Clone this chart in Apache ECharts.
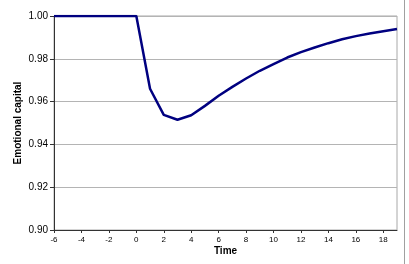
<!DOCTYPE html>
<html>
<head>
<meta charset="utf-8">
<script src="https://cdn.jsdelivr.net/npm/echarts@6/dist/echarts.min.js"></script>
<style>
html, body { margin: 0; padding: 0; background: #fff; }
#chart { width: 409px; height: 264px; }
</style>
</head>
<body>
<div id="chart"></div>
<script>
// data
var times = [-6, -5, -4, -3, -2, -1, 0, 1, 2, 3, 4, 5, 6, 7, 8, 9, 10, 11, 12, 13, 14, 15, 16, 17, 18, 19];
var capital = [1, 1, 1, 1, 1, 1, 1, 0.966, 0.9538, 0.9515, 0.9536, 0.958, 0.9627, 0.9669, 0.9708, 0.9744,
    0.9775, 0.9806, 0.9831, 0.9853, 0.9873, 0.9891, 0.9906, 0.9918, 0.9929, 0.9939];
var yTicks = { min: 0.9, max: 1.0, step: 0.02 };
var xTicks = { min: -6, max: 19, step: 2 };

var points = times.map(function(t, i) { return [t, capital[i]]; });

var myChart = echarts.init(document.getElementById('chart'));
myChart.setOption({
    animation: false,
    grid: {
        left: 54, right: 12, top: 16, bottom: 34,
        show: true, borderColor: '#a8a8a8', borderWidth: 1
    },
    xAxis: {
        type: 'value',
        min: xTicks.min, max: xTicks.max, interval: xTicks.step,
        name: 'Time', nameLocation: 'middle', nameGap: 16, nameMoveOverlap: false,
        nameTextStyle: { fontFamily: 'Liberation Sans', fontWeight: 'bold', fontSize: 10, color: '#000' },
        axisLine: { onZero: false, lineStyle: { color: '#333', width: 1 } },
        axisTick: { show: true, length: 3, lineStyle: { color: '#333' } },
        axisLabel: { showMaxLabel: false, fontFamily: 'Liberation Sans', fontSize: 8, color: '#000', margin: 6 },
        splitLine: { show: false }
    },
    yAxis: {
        type: 'value',
        min: yTicks.min, max: yTicks.max, interval: yTicks.step,
        name: 'Emotional capital', nameLocation: 'middle', nameGap: 31, nameMoveOverlap: false,
        nameTextStyle: { fontFamily: 'Liberation Sans', fontWeight: 'bold', fontSize: 10, color: '#000' },
        axisLine: { show: true, onZero: false, lineStyle: { color: '#333', width: 1 } },
        axisTick: { show: true, length: 4, lineStyle: { color: '#333' } },
        axisLabel: {
            fontFamily: 'Liberation Sans', fontSize: 10, color: '#000', margin: 6,
            formatter: function(v) { return v.toFixed(2); }
        },
        splitLine: { show: true, lineStyle: { color: '#b4b4b4', width: 1 } }
    },
    series: [{
        type: 'line',
        data: points,
        showSymbol: false,
        lineStyle: { color: '#000080', width: 2.5 },
        z: 5
    }],
    graphic: [{
        type: 'line',
        shape: { x1: 404.5, y1: 0, x2: 404.5, y2: 264 },
        style: { stroke: '#a0a0a0', lineWidth: 1 }
    }]
});
</script>
</body>
</html>
